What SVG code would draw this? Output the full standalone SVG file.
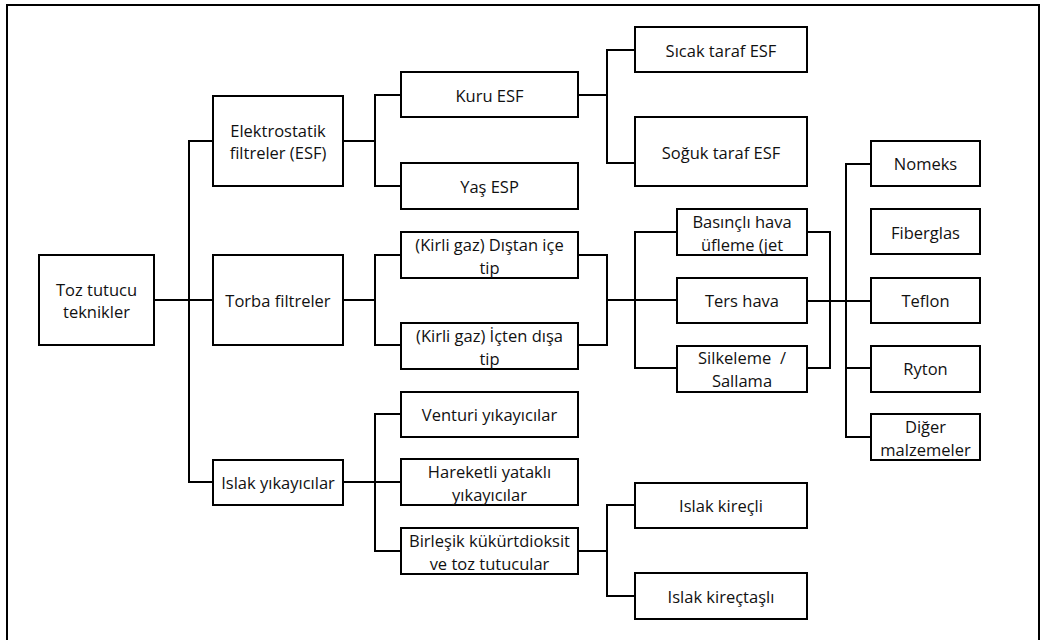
<svg xmlns="http://www.w3.org/2000/svg" width="1042" height="640" viewBox="0 0 1042 640">
<style>
.b{fill:#fff;stroke:#000;stroke-width:2}
.c{fill:none;stroke:#000;stroke-width:2}
text{font-family:"Open Sans","Noto Sans","DejaVu Sans",sans-serif;font-size:16.5px;fill:#111;text-anchor:middle;dominant-baseline:central}
</style>
<rect x="0" y="0" width="1042" height="640" fill="#fff"/>
<rect x="7" y="5" width="1032" height="700" fill="none" stroke="#000" stroke-width="2"/>
<g id="connectors" class="c">
<path d="M154,300 H213 M213,141 H189 V482 H213"/>
<path d="M343,141 H375 M401,95 H375 V186 H401"/>
<path d="M578,95 H607 M635,50 H607 V163 H635"/>
<path d="M343,300 H375 M401,255 H375 V345 H401"/>
<path d="M578,255 H607 V345 H578 M607,300 H677 M677,232 H635 V368 H677"/>
<path d="M807,232 H830 V368 H807 M807,301 H871 M871,164 H846 V437 H871 M846,368 H871"/>
<path d="M343,482 H375 M401,414 H375 V551 H401 M375,482 H401"/>
<path d="M578,551 H607 M635,505 H607 V596 H635"/>
</g>
<g id="toz"><rect class="b" x="39" y="255" width="115" height="90"/><text x="96.5" y="289">Toz tutucu</text><text x="96.5" y="311">teknikler</text></g>
<g id="elektrostatik"><rect class="b" x="213" y="96" width="130" height="90"/><text x="278" y="130">Elektrostatik</text><text x="278" y="152">filtreler (ESF)</text></g>
<g id="torba"><rect class="b" x="213" y="255" width="130" height="90"/><text x="278" y="300">Torba filtreler</text></g>
<g id="islak"><rect class="b" x="213" y="460" width="130" height="45"/><text x="278" y="482">Islak yıkayıcılar</text></g>
<g id="kuru"><rect class="b" x="401" y="72" width="177" height="45"/><text x="489.5" y="95">Kuru ESF</text></g>
<g id="yas"><rect class="b" x="401" y="163" width="177" height="46"/><text x="489.5" y="186">Yaş ESP</text></g>
<g id="distan"><rect class="b" x="401" y="232" width="177" height="46"/><text x="489.5" y="244">(Kirli gaz) Dıştan içe</text><text x="489.5" y="267">tip</text></g>
<g id="icten"><rect class="b" x="401" y="323" width="177" height="46"/><text x="489.5" y="335">(Kirli gaz) İçten dışa</text><text x="489.5" y="358">tip</text></g>
<g id="venturi"><rect class="b" x="401" y="392" width="177" height="45"/><text x="489.5" y="414">Venturi yıkayıcılar</text></g>
<g id="hareketli"><rect class="b" x="401" y="459" width="177" height="46"/><text x="489.5" y="471">Hareketli yataklı</text><text x="489.5" y="494">yıkayıcılar</text></g>
<g id="birlesik"><rect class="b" x="401" y="528" width="177" height="46"/><text x="489.5" y="540">Birleşik kükürtdioksit</text><text x="489.5" y="563">ve toz tutucular</text></g>
<g id="sicak"><rect class="b" x="635" y="27" width="172" height="45"/><text x="721" y="50">Sıcak taraf ESF</text></g>
<g id="soguk"><rect class="b" x="635" y="117" width="172" height="69"/><text x="721" y="152">Soğuk taraf ESF</text></g>
<g id="basincli"><rect class="b" x="677" y="209" width="130" height="46"/><text x="742" y="221">Basınçlı hava</text><text x="742" y="244">üfleme (jet</text></g>
<g id="ters"><rect class="b" x="677" y="278" width="130" height="45"/><text x="742" y="300">Ters hava</text></g>
<g id="silkeleme"><rect class="b" x="677" y="346" width="130" height="46"/><text x="742" y="357" xml:space="preserve">Silkeleme  /</text><text x="742" y="380">Sallama</text></g>
<g id="kirecli"><rect class="b" x="635" y="483" width="172" height="45"/><text x="721" y="505">Islak kireçli</text></g>
<g id="kirectasli"><rect class="b" x="635" y="573" width="172" height="46"/><text x="721" y="596">Islak kireçtaşlı</text></g>
<g id="nomeks"><rect class="b" x="871" y="141" width="109" height="45"/><text x="925.5" y="163">Nomeks</text></g>
<g id="fiberglas"><rect class="b" x="871" y="209" width="109" height="45"/><text x="925.5" y="232">Fiberglas</text></g>
<g id="teflon"><rect class="b" x="871" y="278" width="109" height="45"/><text x="925.5" y="300">Teflon</text></g>
<g id="ryton"><rect class="b" x="871" y="346" width="109" height="46"/><text x="925.5" y="368">Ryton</text></g>
<g id="diger"><rect class="b" x="871" y="414" width="109" height="46"/><text x="925.5" y="426">Diğer</text><text x="925.5" y="449">malzemeler</text></g>
</svg>
